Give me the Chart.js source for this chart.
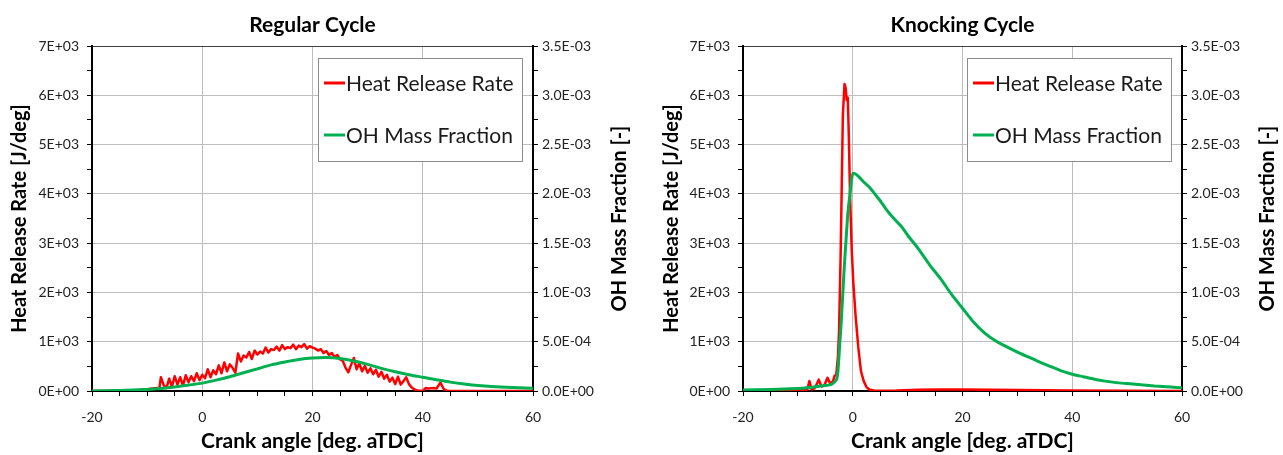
<!DOCTYPE html>
<html>
<head>
<meta charset="utf-8">
<script src="https://cdn.jsdelivr.net/npm/chart.js@4.4.1/dist/chart.umd.min.js"></script>
<style>
  html, body { margin: 0; padding: 0; background: #fff; }
  #wrap { position: relative; width: 1283px; height: 455px; }
  canvas { position: absolute; top: 0; }
</style>
</head>
<body>
<div id="wrap">
  <canvas id="regularChart" width="640" height="455" style="left:0"></canvas>
  <canvas id="knockingChart" width="643" height="455" style="left:640px"></canvas>
</div>
<script>
// ---- data ----
// Regular cycle, heat release rate [J/deg]
const regularHrrAngle = [
  -20, -15, -12, -10, -9, -8.2, -7.8, -7.5, -7, -6.5,
  -6, -5.5, -5, -4.5, -4, -3.5, -3, -2.5, -2, -1.5,
  -1, -0.5, 0, 0.5, 1, 1.5, 2, 2.5, 3, 3.5,
  4, 4.5, 5, 5.5, 6, 6.5, 7, 7.5, 8, 8.5,
  9, 9.5, 10, 10.5, 11, 11.5, 12, 12.5, 13, 13.5,
  14, 14.5, 15, 15.5, 16, 16.5, 17, 17.5, 18, 18.5,
  19, 19.5, 20, 20.5, 21, 21.5, 22, 22.5, 23, 23.5,
  24, 24.5, 25, 25.5, 26, 26.5, 27, 27.5, 28, 28.5,
  29, 29.5, 30, 30.5, 31, 31.5, 32, 32.5, 33, 33.5,
  34, 34.5, 35, 35.5, 36, 36.5, 37, 37.5, 38, 38.5,
  39, 40, 40.5, 41, 42, 42.5, 43.2, 43.8, 44.5, 60
];
const regularHrr = [
  0, 5, 15, 35, 50, 60, 40, 280, 120, 60,
  250, 90, 300, 130, 280, 110, 320, 180, 300, 200,
  360, 220, 330, 260, 440, 280, 420, 340, 520, 360,
  580, 400, 540, 470, 370, 760, 600, 720, 680, 790,
  650, 820, 740, 800, 760, 880, 780, 850, 830, 900,
  820, 930, 850, 890, 870, 940, 850, 920, 890, 950,
  860, 910, 880, 860, 820, 850, 770, 810, 730, 770,
  690, 730, 640, 610, 470, 380, 530, 670, 440, 560,
  400, 510, 370, 460, 340, 430, 290, 390, 250, 330,
  190, 270, 140, 290, 130, 200, 280, 140, 70, 30,
  10, 0, 60, 50, 60, 50, 170, 40, 0, 0
];
// Regular cycle, OH mass fraction [-]
const regularOhAngle = [-20, -15, -10, -7.5, -5, -2.5, 0, 2.5, 5, 7.5, 10, 12.5, 15, 17.5, 20, 22.5, 25, 27.5, 30, 32.5, 35, 37.5, 40, 42.5, 45, 47.5, 50, 55, 60];
const regularOh = [0, 5e-6, 1.5e-5, 2.5e-5, 4e-5, 6e-5, 8e-5, 1.1e-4, 1.45e-4, 1.85e-4, 2.25e-4, 2.65e-4, 2.95e-4, 3.2e-4, 3.35e-4, 3.4e-4, 3.3e-4, 3.05e-4, 2.7e-4, 2.3e-4, 1.95e-4, 1.65e-4, 1.4e-4, 1.15e-4, 9e-5, 7e-5, 5.5e-5, 3.8e-5, 2.8e-5];

// Knocking cycle, heat release rate [J/deg]
const knockHrrAngle = [
  -20, -15, -10, -8.3, -7.9, -7.5, -6.9, -6.2, -5.7, -5.2,
  -4.6, -4.1, -3.6, -3.3, -3.0, -2.7, -2.5, -2.2, -2.0, -1.8,
  -1.5, -1.3, -1.1, -0.9, -0.7, -0.5, -0.2, 0.1, 0.5, 1.0,
  1.5, 2.0, 2.5, 3.0, 4.0, 8, 12, 16, 20, 25,
  30, 40, 50, 60
];
const knockHrr = [
  0, 0, 10, 20, 200, 30, 60, 230, 90, 110,
  270, 150, 200, 310, 330, 700, 1200, 2800, 4200, 5600,
  6230, 6150, 5900, 5950, 5100, 4000, 2900, 2200, 1550, 900,
  400, 200, 80, 30, 5, 10, 25, 30, 30, 25,
  20, 10, 5, 0
];
// Knocking cycle, OH mass fraction [-]
const knockOhAngle = [
  -20, -15, -10, -8, -6, -4, -3, -2.7, -2.4, -2.1,
  -1.8, -1.5, -1.2, -0.9, -0.5, -0.2, 0.1, 1, 2, 3,
  4, 5, 6, 7, 8, 9, 10, 12, 14, 16,
  18, 20, 22, 24, 26, 28, 30, 32, 34, 36,
  38, 40, 42, 44, 46, 48, 50, 52, 55, 58,
  60
];
const knockOh = [
  1e-5, 1.5e-5, 2.5e-5, 3.5e-5, 5e-5, 6.5e-5, 1.1e-4, 2e-4, 4.5e-4, 7e-4,
  1.0e-3, 1.3e-3, 1.55e-3, 1.8e-3, 2.0e-3, 2.15e-3, 2.21e-3, 2.18e-3, 2.12e-3, 2.07e-3,
  2.0e-3, 1.93e-3, 1.85e-3, 1.78e-3, 1.72e-3, 1.66e-3, 1.58e-3, 1.44e-3, 1.28e-3, 1.14e-3,
  9.8e-4, 8.4e-4, 7.0e-4, 5.9e-4, 5.1e-4, 4.5e-4, 3.95e-4, 3.45e-4, 2.95e-4, 2.5e-4,
  2.05e-4, 1.7e-4, 1.45e-4, 1.2e-4, 1.0e-4, 8.5e-5, 7.5e-5, 6.5e-5, 5e-5, 4e-5,
  3.3e-5
];

const FONT = 'Lato, "Open Sans", sans-serif';
const TICK_COLOR = '#222';
const GRID_COLOR = '#bdbdbd';

// Excel style scientific labels: 7E+03, 3.5E-03
function sci(v, digits) {
  const parts = Number(v).toExponential(digits).split('e');
  const n = parseInt(parts[1], 10);
  return parts[0] + 'E' + (n < 0 ? '-' : '+') + String(Math.abs(n)).padStart(2, '0');
}

function pairs(xs, ys) {
  return xs.map((x, i) => ({ x: x, y: ys[i] }));
}

// title, right-hand axis title (reads upwards) and the boxed legend
const decorPlugin = {
  id: 'decor',
  afterDraw(chart, args, opts) {
    const { ctx, chartArea } = chart;
    ctx.save();
    ctx.fillStyle = '#000';
    ctx.textAlign = 'center';
    ctx.textBaseline = 'middle';
    ctx.font = 'bold 21px ' + FONT;
    ctx.fillText(opts.title, (chartArea.left + chartArea.right) / 2, 25);

    ctx.save();
    ctx.translate(opts.rightTitleX, (chartArea.top + chartArea.bottom) / 2);
    ctx.rotate(-Math.PI / 2);
    ctx.font = 'bold 20px ' + FONT;
    ctx.fillText(opts.rightTitle, 0, 0);
    ctx.restore();

    // legend box
    const w = 204, h = 103;
    const bx = chartArea.right - 11 - w;
    const by = chartArea.top + 12;
    ctx.fillStyle = '#fff';
    ctx.fillRect(bx, by, w, h);
    ctx.strokeStyle = '#8c8c8c';
    ctx.lineWidth = 1;
    ctx.strokeRect(bx + 0.5, by + 0.5, w, h);
    ctx.font = '21px ' + FONT;
    ctx.textAlign = 'left';
    chart.data.datasets.forEach((ds, i) => {
      const y = by + 25 + i * 52;
      ctx.strokeStyle = ds.borderColor;
      ctx.lineWidth = 3;
      ctx.beginPath();
      ctx.moveTo(bx + 6, y);
      ctx.lineTo(bx + 27, y);
      ctx.stroke();
      ctx.fillStyle = '#1a1a1a';
      ctx.fillText(ds.label, bx + 28, y + 1);
    });
    ctx.restore();
  }
};

function makeChart(id, cfg) {
  const ctx = document.getElementById(id).getContext('2d');
  return new Chart(ctx, {
    type: 'line',
    data: {
      datasets: [{
        label: 'Heat Release Rate',
        data: pairs(cfg.hrrAngle, cfg.hrr),
        borderColor: '#ff0000',
        borderWidth: 2.5,
        pointRadius: 0,
        tension: 0,
        borderJoinStyle: 'round',
        yAxisID: 'y',
        order: 2
      }, {
        label: 'OH Mass Fraction',
        data: pairs(cfg.ohAngle, cfg.oh),
        borderColor: '#00b050',
        borderWidth: 3,
        pointRadius: 0,
        tension: 0.2,
        yAxisID: 'y1',
        order: 1
      }]
    },
    options: {
      responsive: false,
      animation: false,
      layout: { padding: { top: 46, left: 0, right: 0, bottom: 0 } },
      plugins: {
        legend: { display: false },
        tooltip: { enabled: false },
        decor: { title: cfg.title, rightTitle: 'OH Mass Fraction [-]', rightTitleX: cfg.rightTitleX }
      },
      scales: {
        x: {
          type: 'linear',
          min: -20,
          max: 60,
          afterFit: s => { s.height = 64; },
          ticks: {
            stepSize: 5,
            autoSkip: false,
            maxRotation: 0,
            padding: 13,
            color: TICK_COLOR,
            font: { family: FONT, size: 14 },
            callback: v => (v % 20 === 0 ? v : '')
          },
          grid: {
            color: c => (c.tick && c.tick.value % 20 === 0 && c.tick.value > -20 && c.tick.value < 60) ? GRID_COLOR : 'rgba(0,0,0,0)',
            tickColor: '#000',
            tickLength: 5
          },
          border: { color: '#000', width: 2 },
          title: {
            display: true,
            text: 'Crank angle [deg. aTDC]',
            color: '#000',
            font: { family: FONT, size: 21, weight: 'bold' },
            padding: { top: 0, bottom: 1 }
          }
        },
        y: {
          position: 'left',
          min: 0,
          max: 7000,
          afterFit: s => { s.width = cfg.leftWidth; },
          ticks: {
            stepSize: 500,
            padding: 8,
            color: TICK_COLOR,
            font: { family: FONT, size: 14 },
            callback: v => (v % 1000 === 0 ? sci(v, 0) : '')
          },
          grid: {
            color: c => {
              if (!c.tick || c.tick.value % 1000 !== 0 || c.tick.value === 0) return 'rgba(0,0,0,0)';
              return c.tick.value === 7000 ? '#404040' : GRID_COLOR;
            },
            tickColor: '#000',
            tickLength: 5
          },
          border: { color: '#000', width: 2 },
          title: {
            display: true,
            text: 'Heat Release Rate [J/deg]',
            color: '#000',
            font: { family: FONT, size: 20, weight: 'bold' },
            padding: { top: cfg.leftTitlePad, bottom: 0 }
          }
        },
        y1: {
          position: 'right',
          min: 0,
          max: 0.0035,
          afterFit: s => { s.width = cfg.rightWidth; },
          ticks: {
            stepSize: 0.00025,
            padding: 4,
            color: TICK_COLOR,
            font: { family: FONT, size: 14 },
            callback: v => (Math.round(v / 0.00025) % 2 === 0 ? sci(v, 1) : '')
          },
          grid: { drawOnChartArea: false, tickColor: '#000', tickLength: 5 },
          border: { color: '#000', width: 2 }
        }
      }
    },
    plugins: [decorPlugin]
  });
}

const regularChart = makeChart('regularChart', {
  title: 'Regular Cycle',
  hrrAngle: regularHrrAngle, hrr: regularHrr,
  ohAngle: regularOhAngle, oh: regularOh,
  leftWidth: 92, rightWidth: 107, leftTitlePad: 8, rightTitleX: 620
});

const knockingChart = makeChart('knockingChart', {
  title: 'Knocking Cycle',
  hrrAngle: knockHrrAngle, hrr: knockHrr,
  ohAngle: knockOhAngle, oh: knockOh,
  leftWidth: 103, rightWidth: 101, leftTitlePad: 20, rightTitleX: 628
});
</script>
</body>
</html>
